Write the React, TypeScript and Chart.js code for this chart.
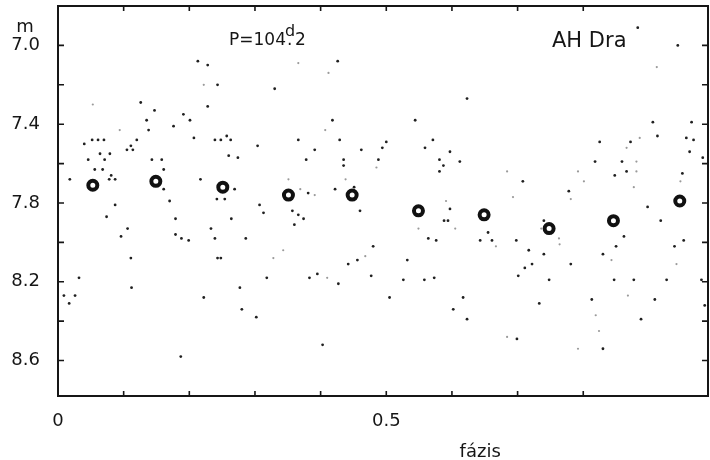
import { useEffect, useRef } from "react";
import { Chart, registerables } from "chart.js";

Chart.register(...registerables);

// ---- data (phase, magnitude) ----
const meanPhase = [0.053, 0.149, 0.251, 0.351, 0.448, 0.549, 0.649, 0.748, 0.846, 0.947];
const meanMag = [7.71, 7.69, 7.72, 7.76, 7.76, 7.84, 7.86, 7.93, 7.89, 7.79];

const obsPhase = [
  0.213, 0.228, 0.243, 0.126, 0.147, 0.228, 0.191, 0.201, 0.135, 0.138,
  0.176, 0.207, 0.040, 0.052, 0.061, 0.070, 0.120, 0.111, 0.105, 0.114,
  0.064, 0.079, 0.239, 0.248, 0.257, 0.263, 0.260, 0.274, 0.046, 0.143,
  0.071, 0.158, 0.056, 0.068, 0.081, 0.078, 0.087, 0.018, 0.161, 0.161,
  0.217, 0.269, 0.242, 0.254, 0.170, 0.087, 0.074, 0.179, 0.264, 0.106,
  0.233, 0.096, 0.179, 0.188, 0.199, 0.239, 0.243, 0.248, 0.111, 0.032,
  0.112, 0.277, 0.009, 0.026, 0.222, 0.017, 0.187, 0.426, 0.330, 0.623,
  0.418, 0.544, 0.304, 0.366, 0.429, 0.391, 0.462, 0.494, 0.500, 0.559,
  0.571, 0.597, 0.883, 0.944, 0.906, 0.965, 0.913, 0.957, 0.968, 0.825,
  0.872, 0.962, 0.982, 0.378, 0.435, 0.435, 0.488, 0.581, 0.587, 0.581,
  0.612, 0.381, 0.422, 0.451, 0.460, 0.307, 0.313, 0.357, 0.366, 0.374,
  0.360, 0.286, 0.480, 0.456, 0.442, 0.532, 0.597, 0.588, 0.594, 0.564,
  0.576, 0.318, 0.383, 0.395, 0.427, 0.477, 0.526, 0.558, 0.573, 0.505,
  0.617, 0.602, 0.280, 0.302, 0.403, 0.623, 0.818, 0.859, 0.866, 0.848,
  0.951, 0.708, 0.778, 0.898, 0.918, 0.740, 0.655, 0.643, 0.661, 0.698,
  0.862, 0.850, 0.953, 0.939, 0.717, 0.740, 0.830, 0.722, 0.781, 0.711,
  0.701, 0.748, 0.847, 0.877, 0.927, 0.980, 0.733, 0.813, 0.909, 0.985,
  0.699, 0.888, 0.830,
];
const obsMag = [
  7.08, 7.10, 7.20, 7.29, 7.33, 7.31, 7.35, 7.38, 7.38, 7.43,
  7.41, 7.47, 7.50, 7.48, 7.48, 7.48, 7.48, 7.51, 7.53, 7.53,
  7.55, 7.55, 7.48, 7.48, 7.46, 7.48, 7.56, 7.57, 7.58, 7.58,
  7.58, 7.58, 7.63, 7.63, 7.66, 7.68, 7.68, 7.68, 7.63, 7.73,
  7.68, 7.73, 7.78, 7.78, 7.79, 7.81, 7.87, 7.88, 7.88, 7.93,
  7.93, 7.97, 7.96, 7.98, 7.99, 7.98, 8.08, 8.08, 8.08, 8.18,
  8.23, 8.23, 8.27, 8.27, 8.28, 8.31, 8.58, 7.08, 7.22, 7.27,
  7.38, 7.38, 7.51, 7.48, 7.48, 7.53, 7.53, 7.52, 7.49, 7.52,
  7.48, 7.54, 6.91, 7.00, 7.39, 7.39, 7.46, 7.47, 7.48, 7.49,
  7.49, 7.54, 7.57, 7.58, 7.58, 7.61, 7.58, 7.58, 7.61, 7.64,
  7.59, 7.75, 7.73, 7.72, 7.84, 7.81, 7.85, 7.84, 7.86, 7.88,
  7.91, 7.98, 8.02, 8.09, 8.11, 8.09, 7.83, 7.89, 7.89, 7.98,
  7.99, 8.18, 8.18, 8.16, 8.21, 8.17, 8.19, 8.19, 8.18, 8.28,
  8.28, 8.34, 8.34, 8.38, 8.52, 8.39, 7.59, 7.59, 7.64, 7.66,
  7.65, 7.69, 7.74, 7.82, 7.89, 7.89, 7.95, 7.99, 7.99, 7.99,
  7.97, 8.02, 7.99, 8.02, 8.04, 8.06, 8.06, 8.11, 8.11, 8.13,
  8.17, 8.19, 8.19, 8.19, 8.19, 8.19, 8.31, 8.29, 8.29, 8.32,
  8.49, 8.39, 8.54,
];

const faintPhase = [
  0.222, 0.053, 0.094, 0.366, 0.412, 0.407, 0.912, 0.886, 0.866, 0.485,
  0.351, 0.369, 0.391, 0.438, 0.343, 0.328, 0.468, 0.591, 0.549, 0.605,
  0.410, 0.684, 0.792, 0.801, 0.781, 0.693, 0.877, 0.881, 0.881, 0.948,
  0.736, 0.667, 0.763, 0.764, 0.843, 0.942, 0.868, 0.819, 0.684, 0.824,
  0.792,
];
const faintMag = [
  7.20, 7.30, 7.43, 7.09, 7.14, 7.43, 7.11, 7.47, 7.52, 7.62,
  7.68, 7.73, 7.76, 7.68, 8.04, 8.08, 8.07, 7.79, 7.93, 7.93,
  8.18, 7.64, 7.64, 7.69, 7.78, 7.77, 7.72, 7.59, 7.64, 7.69,
  7.93, 8.02, 7.98, 8.01, 8.09, 8.11, 8.27, 8.37, 8.48, 8.45,
  8.54,
];

const xTickLabels: Record<string, string> = { "0.0": "0", "0.5": "0.5" };
const yTickLabels = ["7.0", "7.4", "7.8", "8.2", "8.6"];

const FONT = '"DejaVu Sans", sans-serif';
const INK = "#161616";

function pts(xs: number[], ys: number[]) {
  return xs.map((x, i) => ({ x, y: ys[i] }));
}

const framePlugin = {
  id: "frameAndText",
  afterDraw(chart: any) {
    const { ctx, chartArea: a, scales } = chart;
    const xs = scales.x;
    const ys = scales.y;
    ctx.save();
    ctx.strokeStyle = INK;
    ctx.lineWidth = 2;
    ctx.strokeRect(a.left, a.top, a.right - a.left, a.bottom - a.top);
    ctx.lineWidth = 1.6;
    const tl = 5;
    xs.ticks.forEach((t: any) => {
      const px = xs.getPixelForValue(t.value);
      if (px < a.left + 3 || px > a.right - 3) return;
      ctx.beginPath();
      ctx.moveTo(px, a.bottom);
      ctx.lineTo(px, a.bottom - tl);
      ctx.moveTo(px, a.top);
      ctx.lineTo(px, a.top + tl);
      ctx.stroke();
    });
    ys.ticks.forEach((t: any) => {
      const py = ys.getPixelForValue(t.value);
      if (py < a.top + 3 || py > a.bottom - 3) return;
      ctx.beginPath();
      ctx.moveTo(a.left, py);
      ctx.lineTo(a.left + tl + 1, py);
      ctx.moveTo(a.right, py);
      ctx.lineTo(a.right - tl - 1, py);
      ctx.stroke();
    });

    ctx.fillStyle = INK;
    ctx.textBaseline = "alphabetic";
    // "m" unit label above 7.0
    ctx.font = `18px ${FONT}`;
    ctx.textAlign = "center";
    ctx.fillText("m", 25, ys.getPixelForValue(7.0) - 13);
    // axis title
    ctx.fillText("fázis", xs.getPixelForValue(0.643), a.bottom + 61);
    // period annotation
    ctx.textAlign = "left";
    ctx.font = `17px ${FONT}`;
    ctx.fillText("P=104", a.left + 171, a.top + 39);
    ctx.font = `16px ${FONT}`;
    ctx.fillText("d", a.left + 227, a.top + 30);
    ctx.font = `17px ${FONT}`;
    ctx.fillText(".", a.left + 229, a.top + 39);
    ctx.fillText("2", a.left + 237, a.top + 39);
    // star name
    ctx.font = `21px ${FONT}`;
    ctx.fillText("AH Dra", a.left + 494, a.top + 41);
    ctx.restore();
  },
};

export default function App() {
  const ref = useRef<HTMLCanvasElement>(null);
  useEffect(() => {
    document.body.style.margin = "0";
    const chart = new Chart(ref.current!, {
      type: "scatter",
      data: {
        datasets: [
          {
            label: "faint",
            data: pts(faintPhase, faintMag),
            pointRadius: 1.1,
            pointBackgroundColor: "#9a9a9a",
            pointBorderWidth: 0,
          },
          {
            label: "obs",
            data: pts(obsPhase, obsMag),
            pointRadius: 1.4,
            pointBackgroundColor: "#202020",
            pointBorderWidth: 0,
          },
          {
            label: "mean",
            data: pts(meanPhase, meanMag),
            pointRadius: 4.5,
            pointBorderWidth: 4,
            pointBorderColor: "#111",
            pointBackgroundColor: "#fff",
          },
        ],
      },
      options: {
        animation: false,
        responsive: true,
        maintainAspectRatio: false,
        layout: { autoPadding: false, padding: { top: 6, right: 2, left: 0, bottom: 0 } },
        plugins: { legend: { display: false }, tooltip: { enabled: false } },
        scales: {
          x: {
            type: "linear",
            min: 0,
            max: 0.99,
            grid: { display: false, drawTicks: false },
            border: { display: false },
            afterFit: (s: any) => {
              s.height = 64;
              s.paddingLeft = 0;
              s.paddingRight = 0;
            },
            ticks: {
              stepSize: 0.1,
              autoSkip: false,
              maxRotation: 0,
              padding: 15,
              color: INK,
              font: { family: FONT, size: 18 },
              callback: (v: any) => xTickLabels[Number(v).toFixed(1)] ?? "",
            },
          },
          y: {
            type: "linear",
            reverse: true,
            min: 6.8,
            max: 8.78,
            grid: { display: false, drawTicks: false },
            border: { display: false },
            afterFit: (s: any) => {
              s.width = 58;
              s.paddingTop = 0;
              s.paddingBottom = 0;
            },
            ticks: {
              stepSize: 0.2,
              autoSkip: false,
              padding: 18,
              color: INK,
              font: { family: FONT, size: 18 },
              callback: (v: any) => {
                const s = Number(v).toFixed(1);
                return yTickLabels.includes(s) && Math.abs(Number(v) - Number(s)) < 0.001 ? s : "";
              },
            },
          },
        },
      },
      plugins: [framePlugin],
    });
    return () => chart.destroy();
  }, []);
  return (
    <div style={{ position: "relative", width: 710, height: 460 }}>
      <canvas ref={ref} />
    </div>
  );
}
